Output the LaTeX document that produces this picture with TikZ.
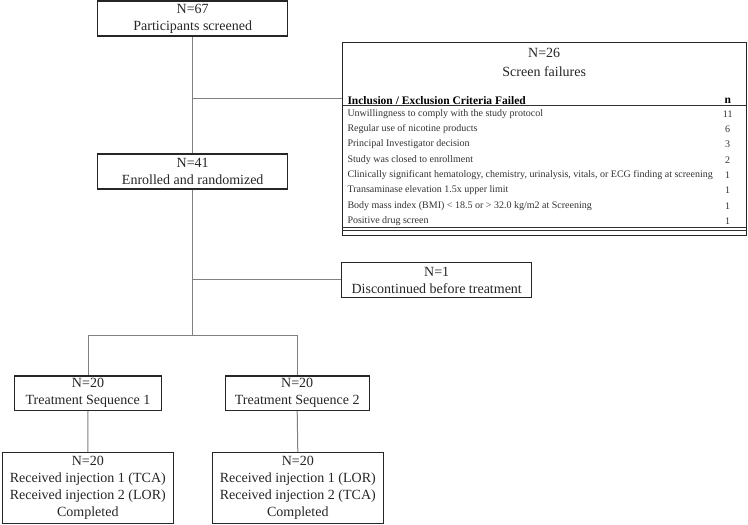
\documentclass[tikz,border=0pt]{standalone}
\usepackage{fontspec}
\setmainfont{Liberation Serif}
\begin{document}
\begin{tikzpicture}[x=1bp,y=-1bp,
  box/.style={draw=black!85, line width=1.1bp, fill=white, inner sep=0, align=center,
    font=\fontsize{14bp}{17bp}\selectfont, text=black!85},
  conn/.style={draw=black!50, line width=1bp},
  cell/.style={inner sep=0, font=\fontsize{10bp}{12bp}\selectfont, text=black!80},
  hcell/.style={inner sep=0, font=\fontsize{11.5bp}{12bp}\selectfont\bfseries, text=black},
  rule/.style={draw=black!80, line width=0.8bp},
]
\useasboundingbox (0,0) rectangle (748,525);

% main boxes
\node[box, minimum width=190bp, minimum height=35bp] (scr) at (192.7,18.5) {N=67\\Participants screened};
\node[box, minimum width=190bp, minimum height=35bp] (enr) at (192.7,171.5) {N=41\\Enrolled and randomized};
\node[box, minimum width=190bp, minimum height=35.5bp] (dis) at (436.7,280) {N=1\\Discontinued before treatment};
\node[box, minimum width=146.6bp, minimum height=34.7bp] (ts1) at (88,393.3) {N=20\\Treatment Sequence 1};
\node[box, minimum width=144.3bp, minimum height=34.7bp] (ts2) at (297.2,393.3) {N=20\\Treatment Sequence 2};
\node[box, minimum width=171bp, minimum height=70.6bp] (c1) at (87.8,488) {N=20\\Received injection 1 (TCA)\\Received injection 2 (LOR)\\Completed};
\node[box, minimum width=171bp, minimum height=70.6bp] (c2) at (297.8,488) {N=20\\Received injection 1 (LOR)\\Received injection 2 (TCA)\\Completed};

% screen failure table
\node[box, minimum width=403.7bp, minimum height=192.3bp] (sf) at (544.2,138.9) {};
\node[box, draw=none, fill=none, font=\fontsize{14bp}{18.4bp}\selectfont] (sft) at (544.2,62.5) {N=26\\Screen failures};
\node[hcell, anchor=west] (h1) at (347.3,100.5) {Inclusion / Exclusion Criteria Failed};
\node[hcell] (h2) at (727.7,100.5) {n};
\draw[rule] (342.3,105.7) -- (746,105.7);
\foreach \t/\n [count=\i from 0] in {
  {Unwillingness to comply with the study protocol}/11,
  {Regular use of nicotine products}/6,
  {Principal Investigator decision}/3,
  {Study was closed to enrollment}/2,
  {Clinically significant hematology, chemistry, urinalysis, vitals, or ECG finding at screening}/1,
  {Transaminase elevation 1.5x upper limit}/1,
  {Body mass index (BMI) < 18.5 or > 32.0 kg/m2 at Screening}/1,
  {Positive drug screen}/1}{
  \node[cell, anchor=west] (r\i) at (347.3,114+15.3*\i) {\t};
  \node[cell] (n\i) at (727.7,114+15.3*\i) {\n};
}
\draw[rule] (342.3,227) -- (746,227);
\draw[rule] (342.3,230) -- (746,230);

% connectors
\coordinate (j1) at (scr.south |- 0,99);
\coordinate (j2) at (enr.south |- 0,279.3);
\coordinate (j3) at (enr.south |- 0,335);
\draw[conn] (scr.south) -- (enr.north);
\draw[conn] (j1) -- (j1 -| sf.west);
\draw[conn] (enr.south) -- (j3);
\draw[conn] (j2) -- (j2 -| dis.west);
\draw[conn] (ts1.north) -- (ts1.north |- j3) -- (ts2.north |- j3) -- (ts2.north);
\draw[conn] (ts1.south) -- (c1.north);
\draw[conn] (ts2.south) -- (c2.north);
\end{tikzpicture}
\end{document}
